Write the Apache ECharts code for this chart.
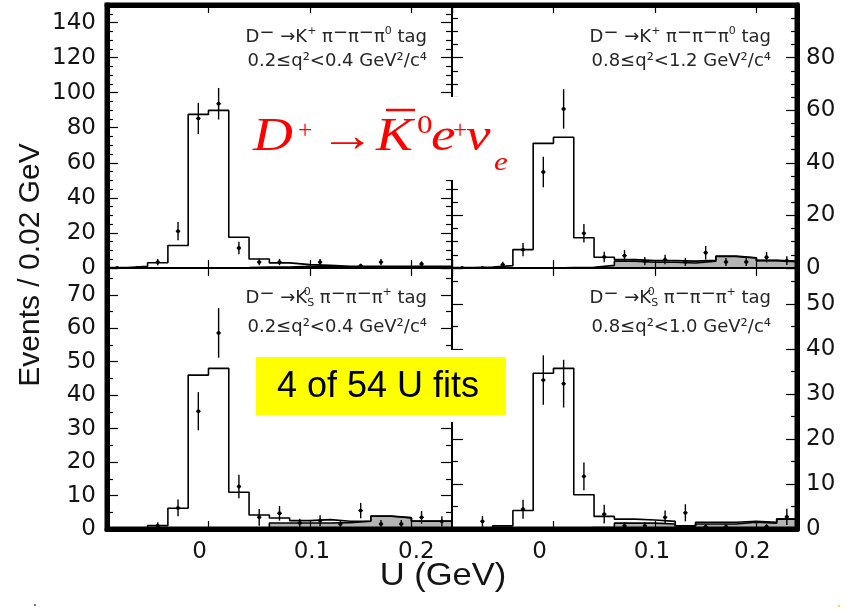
<!DOCTYPE html>
<html>
<head>
<meta charset="utf-8">
<script src="https://cdn.jsdelivr.net/npm/echarts@6.0.0/dist/echarts.min.js"></script>
<style>
html,body{margin:0;padding:0;background:#ffffff;}
#chart{width:845px;height:613px;}
</style>
</head>
<body>
<div id="chart"></div>
<script>
// ---------------- data ----------------
const uCenters = [-0.09,-0.07,-0.05,-0.03,-0.01,0.01,0.03,0.05,0.07,0.09,0.11,0.13,0.15,0.17,0.19,0.21,0.23];
const binWidth = 0.02;
const xTickValues = [0, 0.1, 0.2];
const xTickLabels = ['0', '0.1', '0.2'];

const tlTicks = [0,20,40,60,80,100,120,140];
const trTicks = [0,20,40,60,80];
const blTicks = [0,10,20,30,40,50,60,70];
const brTicks = [0,10,20,30,40,50];

// top-left: D- -> K+ pi- pi- pi0 tag, 0.2<=q2<0.4
const tlFit  = [0.3,1.0,3.0,12.8,87.6,89.9,17.5,5.1,2.9,1.9,1.5,1.0,1.0,1.0,1.0,1.0,1.0];
const tlBkg  = [0,0,0,0,0,0,0.2,0.5,0.6,0.9,0.9,0.5,0.5,0.5,0.5,0.5,0.5];
const tlData = [0,0,3.4,21,85.3,93.7,11.4,3.4,3.4,0,3.4,0,1.3,3.4,0,2.3,0];
const tlErr  = [0,0,1.8,5.2,8.9,9.0,3.6,1.8,1.8,0,1.8,0,1.1,1.8,0,1.5,0];

// top-right: D- -> K+ pi- pi- pi0 tag, 0.8<=q2<1.2
const trFit  = [0.2,0.4,0.9,7.0,47.4,49.7,11.5,4.1,3.2,2.8,2.8,2.6,2.9,4.5,3.9,2.9,2.6];
const trBkg  = [0,0,0,0,0,0.2,0.3,1.0,2.6,2.2,2.2,1.9,2.6,4.4,3.8,2.8,2.4];
const trData = [0,0,1.3,7.0,36.5,60.5,13.2,4.2,4.7,2.6,3.2,2.3,5.8,2.3,2.3,4.1,2.8];
const trErr  = [0,0,1.1,2.5,5.8,7.5,3.5,2.0,2.2,1.6,1.8,1.5,2.6,1.5,1.5,2.0,1.7];

// bottom-left: D- -> KS pi- pi- pi+ tag, 0.2<=q2<0.4
const blFit  = [0,0,1.0,6.2,46,48,11,4.2,3.3,2.5,2.8,2.3,2.4,3.9,3.4,2.4,2.4];
const blBkg  = [0,0,0,0,0,0,0.2,0.4,1.8,1.8,1.8,1.9,2.3,3.8,3.3,2.3,2.3];
const blData = [0,0,1.0,6.3,35.2,58.6,12.7,3.5,4.7,1.8,2.5,1.5,5.5,1.5,1.5,3.5,2.3];
const blErr  = [0,0,1.0,2.5,5.7,7.4,3.5,2.5,2.2,1.3,1.6,1.2,2.3,1.2,1.2,1.9,1.5];

// bottom-right: D- -> KS pi- pi- pi+ tag, 0.8<=q2<1.0
const brFit  = [0,0,0.7,4.1,34.6,35.7,7.6,2.8,2.2,2.0,1.7,0.7,1.5,1.5,1.7,1.5,2.2];
const brBkg  = [0,0,0,0,0,0,0.3,0.4,1.3,1.3,1.1,0.6,1.1,1.1,1.5,1.3,2.2];
const brData = [0,1.7,0,4.4,33.1,32.3,11.7,3.3,0.7,0.7,2.6,3.6,0.5,0.5,0,0.5,2.7];
const brErr  = [0,1.2,0,2.1,5.5,5.3,3.1,2.1,0.8,0.8,1.5,1.9,0.6,0.6,0,0.6,1.8];

// ---------------- chart ----------------
const edges = uCenters.map(c => +(c - binWidth / 2).toFixed(4))
  .concat([+(uCenters[uCenters.length - 1] + binWidth / 2).toFixed(4)]);
function stepData(vals) { return edges.map((e, i) => [e, vals[Math.min(i, vals.length - 1)]]); }

const panels = [
  {fit: tlFit, bkg: tlBkg, pts: tlData, err: tlErr, yMax: 150, yInt: 20, yMinor: 4, yTicks: tlTicks, col: 0, row: 0},
  {fit: trFit, bkg: trBkg, pts: trData, err: trErr, yMax: 100, yInt: 20, yMinor: 4, yTicks: trTicks, col: 1, row: 0},
  {fit: blFit, bkg: blBkg, pts: blData, err: blErr, yMax: 78,  yInt: 10, yMinor: 2, yTicks: blTicks, col: 0, row: 1},
  {fit: brFit, bkg: brBkg, pts: brData, err: brErr, yMax: 58,  yInt: 10, yMinor: 2, yTicks: brTicks, col: 1, row: 1}
];

const GX = [107, 452], GY = [5, 268], GW = 345, GH = [263, 261];
const tickFont = {fontFamily: 'DejaVu Sans', fontSize: 23, color: '#141414'};
// small horizontal nudges of the x tick labels, as printed in the original
const labelNudge = [[-9, 2, 5], [-14, -3, -4]];

const grid = [], xAxis = [], yAxis = [], series = [];

panels.forEach((p, i) => {
  grid.push({left: GX[p.col], top: GY[p.row], width: GW, height: GH[p.row]});
  const xBase = {
    type: 'value', gridIndex: i, min: -0.1, max: 0.24, interval: 0.1, z: 5,
    splitLine: {show: false},
    axisTick: {show: true, inside: true, length: 8, lineStyle: {color: '#000', width: 1.2}}
  };
  const rich = {};
  labelNudge[p.col].forEach((d, k) => {
    rich['l' + k] = Object.assign({}, tickFont, {padding: d < 0 ? [0, -2 * d, 0, 0] : [0, 0, 0, 2 * d]});
  });
  xAxis.push(Object.assign({}, xBase, {
    position: 'bottom',
    axisLine: {show: true, onZero: false, lineStyle: {color: '#000', width: p.row === 1 ? 5 : 2}},
    axisLabel: Object.assign({
      show: p.row === 1, margin: 12, showMinLabel: false, showMaxLabel: false, rich: rich,
      formatter: v => { const k = xTickValues.findIndex(t => Math.abs(t - v) < 1e-6); return k >= 0 ? '{l' + k + '|' + xTickLabels[k] + '}' : ''; }
    }, tickFont)
  }));
  xAxis.push(Object.assign({}, xBase, {
    position: 'top',
    axisLine: {show: true, onZero: false, lineStyle: {color: '#000', width: p.row === 0 ? 5 : 2}},
    axisLabel: {show: false}
  }));
  const yBase = {
    type: 'value', gridIndex: i, min: 0, max: p.yMax, interval: p.yInt, z: 5,
    splitLine: {show: false},
    axisTick: {show: true, inside: true, length: 11, lineStyle: {color: '#000', width: 1.2}},
    minorTick: {show: true, splitNumber: p.yMinor, length: 6, lineStyle: {color: '#000', width: 1.2}}
  };
  const labelSide = p.col === 0 ? 'left' : 'right';
  const otherSide = p.col === 0 ? 'right' : 'left';
  yAxis.push(Object.assign({}, yBase, {
    position: labelSide,
    axisLine: {show: true, onZero: false, lineStyle: {color: '#000', width: 5}},
    axisLabel: Object.assign({
      show: true, margin: p.col === 0 ? 11 : 9, showMaxLabel: false,
      formatter: v => (p.yTicks.indexOf(Math.round(v)) >= 0 && Math.abs(v - Math.round(v)) < 1e-6) ? String(Math.round(v)) : ''
    }, tickFont)
  }));
  yAxis.push(Object.assign({}, yBase, {
    position: otherSide,
    axisLine: {show: true, onZero: false, lineStyle: {color: '#000', width: 2}},
    axisLabel: {show: false}
  }));

  series.push({
    type: 'line', xAxisIndex: 2 * i, yAxisIndex: 2 * i, step: 'end', symbol: 'none', z: 2,
    data: stepData(p.bkg),
    lineStyle: {color: '#000', width: 1.6},
    areaStyle: {color: '#b4b4b4', opacity: 1},
    animation: false
  });
  series.push({
    type: 'line', xAxisIndex: 2 * i, yAxisIndex: 2 * i, step: 'end', symbol: 'none', z: 3,
    data: stepData(p.fit),
    lineStyle: {color: '#000', width: 1.6},
    animation: false
  });
  series.push({
    type: 'custom', xAxisIndex: 2 * i, yAxisIndex: 2 * i, z: 4, clip: true,
    data: uCenters.map((u, k) => [u, p.pts[k], p.err[k]]),
    renderItem: (params, api) => {
      const x = api.value(0), y = api.value(1), e = api.value(2);
      const c = api.coord([x, y]);
      const hi = api.coord([x, y + e]);
      const lo = api.coord([x, Math.max(0, y - e)]);
      const children = [];
      if (e > 0) children.push({type: 'line', shape: {x1: c[0], y1: hi[1], x2: c[0], y2: lo[1]}, style: {stroke: '#000', lineWidth: 1.4}});
      children.push({type: 'line', shape: {x1: c[0] - 2.2, y1: c[1], x2: c[0] + 2.2, y2: c[1]}, style: {stroke: '#000', lineWidth: 1.2}});
      children.push({type: 'circle', shape: {cx: c[0], cy: c[1], r: 1.9}, style: {fill: '#000'}});
      return {type: 'group', children: children};
    },
    animation: false
  });
});

// ---------------- annotations ----------------
const tagRich = {
  m: {fontFamily: 'DejaVu Sans', fontSize: 18, fill: '#262626', padding: [0, 0, 7, 0], verticalAlign: 'middle'},
  p: {fontFamily: 'DejaVu Sans', fontSize: 11, fill: '#262626', padding: [0, 0, 12, 0], verticalAlign: 'middle'},
  z: {fontFamily: 'DejaVu Sans', fontSize: 11, fill: '#262626', padding: [0, 0, 12, 0], width: 0, align: 'left', verticalAlign: 'middle'},
  s: {fontFamily: 'DejaVu Sans', fontSize: 11, fill: '#262626', padding: [10, 0, 0, 0], align: 'left', verticalAlign: 'middle'}
};
function tagText(x, y, text) {
  return {type: 'text', x: x, y: y, z: 60,
    style: {text: text, fontFamily: 'DejaVu Sans', fontSize: 18, fill: '#262626', align: 'right', verticalAlign: 'middle', rich: tagRich}};
}
function plainTag(x, y, text) {
  return {type: 'text', x: x, y: y, z: 60,
    style: {text: text, fontFamily: 'DejaVu Sans', fontSize: 18, fill: '#262626', align: 'right', verticalAlign: 'middle'}};
}
const kPiTag = 'D{m|−} →K{p|+} π{m|−}π{m|−}π{p|0} tag';
const ksTag = 'D{m|−} →K{z|0}{s|S} π{m|−}π{m|−}π{p|+} tag';

const redSerif = 'Liberation Serif, DejaVu Serif, serif';
function red(x, y, text, size, italic, sx) {
  return {type: 'text', x: x, y: y, z: 70, scaleX: sx || 1.2,
    style: {text: text, fontFamily: redSerif, fontSize: size, fontStyle: italic ? 'italic' : 'normal', fill: '#ff0000', align: 'left', verticalAlign: 'middle'}};
}

const graphic = [
  // outer frame
  {type: 'rect', z: 50, shape: {x: 107, y: 5, width: 690, height: 524}, style: {fill: 'none', stroke: '#000', lineWidth: 5}},
  // white backing for the formula and for the label box
  {type: 'rect', z: 40, shape: {x: 252, y: 97, width: 262, height: 83}, style: {fill: '#fff'}},
  {type: 'rect', z: 40, shape: {x: 248, y: 350, width: 266, height: 72}, style: {fill: '#fff'}},
  {type: 'rect', z: 41, shape: {x: 256, y: 357, width: 250, height: 58}, style: {fill: '#ffff00'}},
  {type: 'text', x: 378, y: 387, z: 60, style: {text: '4 of 54 U fits', fontFamily: 'Liberation Sans, Arial, sans-serif', fontSize: 36, fill: '#000', align: 'center', verticalAlign: 'middle'}},
  // panel tags
  tagText(427, 37, kPiTag),
  plainTag(427, 61, '0.2≤q²<0.4 GeV²/c⁴'),
  tagText(771, 37, kPiTag),
  plainTag(771, 61, '0.8≤q²<1.2 GeV²/c⁴'),
  tagText(427, 298, ksTag),
  plainTag(427, 327, '0.2≤q²<0.4 GeV²/c⁴'),
  tagText(771, 298, ksTag),
  plainTag(771, 327, '0.8≤q²<1.0 GeV²/c⁴'),
  // red formula  D+ -> K̄0 e+ ν_e
  red(253, 138, 'D', 46, true),
  red(298, 131, '+', 25, false, 1.0),
  red(320, 139, '→', 46, false),
  red(376, 138, 'K', 46, true),
  {type: 'line', z: 70, shape: {x1: 386, y1: 110, x2: 415, y2: 110}, style: {stroke: '#ff0000', lineWidth: 2.5}},
  red(417, 126, '0', 26, false),
  red(431, 138, 'e', 46, true),
  red(453, 131, '+', 25, false, 1.0),
  red(466, 138, 'ν', 46, true),
  red(494, 163, 'e', 26, true),
  // axis titles
  {type: 'text', x: 31, y: 265, rotation: Math.PI / 2, z: 60, style: {text: 'Events / 0.02 GeV', fontFamily: 'Liberation Sans, Arial, sans-serif', fontSize: 30, fill: '#141414', align: 'center', verticalAlign: 'middle'}},
  {type: 'text', x: 443, y: 576, z: 60, scaleX: 1.08, style: {text: 'U (GeV)', fontFamily: 'Liberation Sans, Arial, sans-serif', fontSize: 32, fill: '#141414', align: 'center', verticalAlign: 'middle'}},
  // small specks at the bottom corners
  {type: 'circle', z: 60, shape: {cx: 35, cy: 605, r: 0.9}, style: {fill: '#444'}},
  {type: 'circle', z: 60, shape: {cx: 839, cy: 606, r: 1.2}, style: {fill: '#f5d76e'}}
];

const chart = echarts.init(document.getElementById('chart'), null, {renderer: 'canvas'});
chart.setOption({
  animation: false,
  backgroundColor: '#ffffff',
  grid: grid,
  xAxis: xAxis,
  yAxis: yAxis,
  series: series,
  graphic: graphic
});
</script>
</body>
</html>
